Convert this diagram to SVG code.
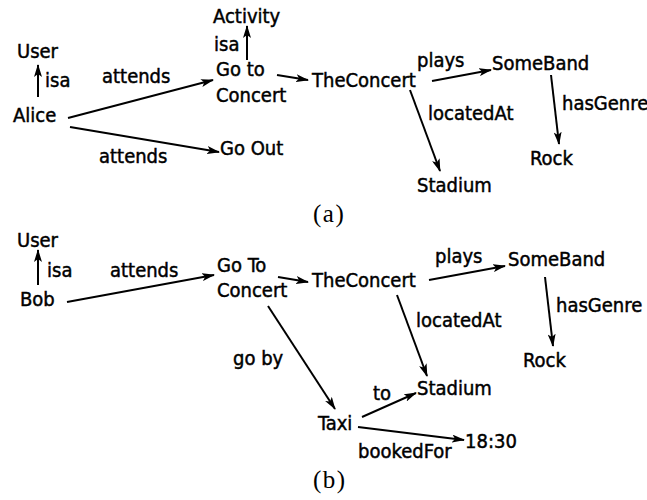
<svg xmlns="http://www.w3.org/2000/svg" width="647" height="500" viewBox="0 0 647 500">
<style>
text{font-family:"DejaVu Sans Condensed","DejaVu Sans",sans-serif;font-size:20px;fill:#000;stroke:#000;stroke-width:0.45}
.cap{font-family:"Liberation Serif","DejaVu Serif",serif;font-size:25px;letter-spacing:1.5px;stroke:none}
.e{stroke:#000;stroke-width:2;fill:none;marker-end:url(#ah)}
</style>
<defs>
<marker id="ah" viewBox="0 0 13 8" refX="12" refY="4" markerWidth="13" markerHeight="8" markerUnits="userSpaceOnUse" orient="auto">
<path d="M0,0 L13,4 L0,8 L3,4 Z" fill="#000"/>
</marker>
</defs>
<rect width="647" height="500" fill="#fff"/>
<g id="edges">
<line class="e" x1="38" y1="97" x2="38" y2="65"/>
<line class="e" x1="68" y1="118" x2="213" y2="80"/>
<line class="e" x1="70" y1="127" x2="219" y2="152"/>
<line class="e" x1="247" y1="60" x2="247" y2="26"/>
<line class="e" x1="277" y1="75" x2="308" y2="80"/>
<line class="e" x1="432" y1="81" x2="491" y2="70"/>
<line class="e" x1="551" y1="75" x2="559" y2="144"/>
<line class="e" x1="410" y1="90" x2="440" y2="171"/>
<line class="e" x1="38" y1="285" x2="38" y2="250"/>
<line class="e" x1="67" y1="302" x2="214" y2="275"/>
<line class="e" x1="278" y1="277" x2="308" y2="282"/>
<line class="e" x1="429" y1="280" x2="505" y2="266"/>
<line class="e" x1="545" y1="277" x2="553" y2="346"/>
<line class="e" x1="397" y1="295" x2="427" y2="376"/>
<line class="e" x1="268" y1="306" x2="335" y2="409"/>
<line class="e" x1="362" y1="417" x2="416" y2="393"/>
<line class="e" x1="358" y1="427" x2="464" y2="440"/>
</g>
<g id="labels">
<text x="45" y="87">isa</text>
<text x="102" y="83">attends</text>
<text x="99" y="163">attends</text>
<text x="214" y="51">isa</text>
<text x="417" y="67">plays</text>
<text x="562" y="110">hasGenre</text>
<text x="428" y="120">locatedAt</text>
<text x="47" y="277">isa</text>
<text x="110" y="277">attends</text>
<text x="435" y="263">plays</text>
<text x="556" y="312">hasGenre</text>
<text x="416" y="327">locatedAt</text>
<text x="233" y="365">go by</text>
<text x="373" y="400">to</text>
<text x="358" y="458">bookedFor</text>
</g>
<g id="a-user"><text x="17" y="58">User</text></g>
<g id="a-alice"><text x="13" y="122">Alice</text></g>
<g id="a-activity"><text x="213" y="23">Activity</text></g>
<g id="a-gotoconcert"><text x="216" y="76">Go to</text><text x="216" y="102">Concert</text></g>
<g id="a-goout"><text x="220" y="155">Go Out</text></g>
<g id="a-theconcert"><text x="312" y="87">TheConcert</text></g>
<g id="a-someband"><text x="492" y="70">SomeBand</text></g>
<g id="a-rock"><text x="530" y="165">Rock</text></g>
<g id="a-stadium"><text x="417" y="192">Stadium</text></g>
<text class="cap" x="313" y="222">(a)</text>
<g id="b-user"><text x="17" y="247">User</text></g>
<g id="b-bob"><text x="20" y="306">Bob</text></g>
<g id="b-gotoconcert"><text x="217" y="272">Go To</text><text x="217" y="297">Concert</text></g>
<g id="b-theconcert"><text x="312" y="287">TheConcert</text></g>
<g id="b-someband"><text x="508" y="266">SomeBand</text></g>
<g id="b-rock"><text x="523" y="367">Rock</text></g>
<g id="b-stadium"><text x="417" y="395">Stadium</text></g>
<g id="b-taxi"><text x="318" y="430">Taxi</text></g>
<g id="b-1830"><text x="465" y="448">18:30</text></g>
<text class="cap" x="313" y="488">(b)</text>
</svg>
